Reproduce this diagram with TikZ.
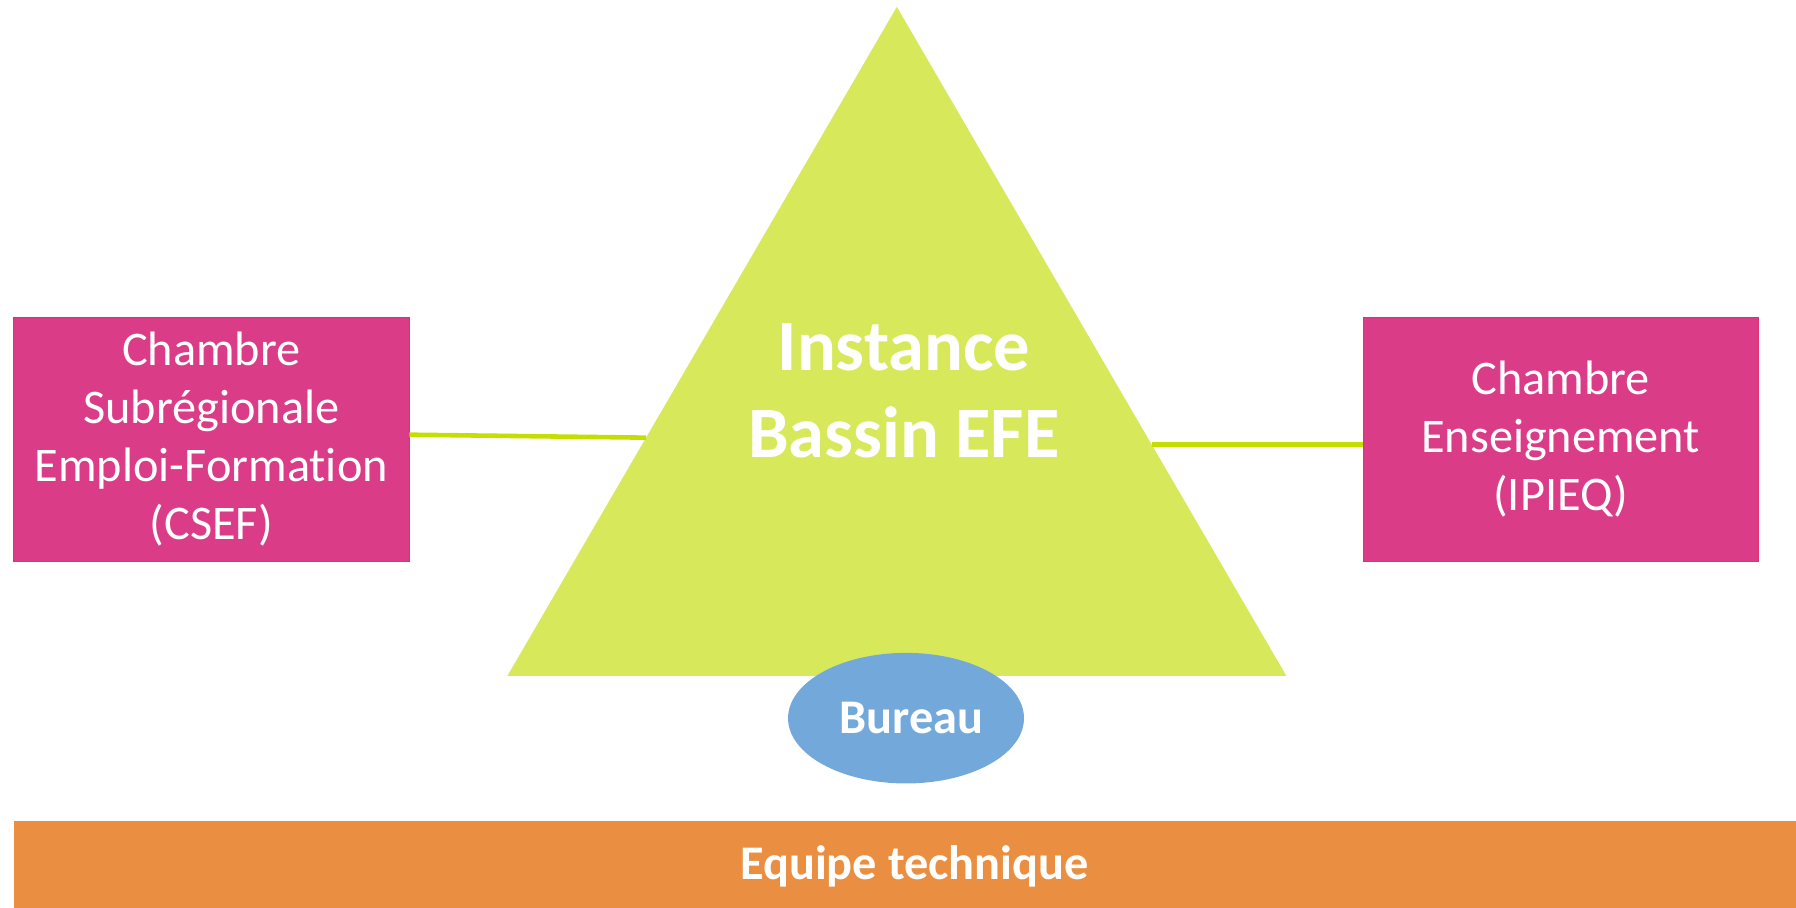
\documentclass[tikz,border=0pt]{standalone}
\usepackage{fontspec}
\setmainfont{Carlito}[Ligatures=CommonOff]
\usetikzlibrary{calc,shapes.geometric}

\definecolor{pyramid}{HTML}{D7E95B}
\definecolor{chamber}{HTML}{DB3C87}
\definecolor{chamberline}{HTML}{E0306F}
\definecolor{bureau}{HTML}{72A9DA}
\definecolor{team}{HTML}{EA8F42}
\definecolor{linkgreen}{HTML}{C3DE00}

\tikzset{
  chambre/.style={draw=chamberline, fill=chamber, text=white, align=center,
    minimum width=69mm, minimum height=42.6mm, inner sep=0pt,
    font=\fontsize{24}{28.8}\selectfont},
  lien/.style={draw=linkgreen, line width=0.8mm},
}

\begin{document}
\begin{tikzpicture}[x=0.2mm, y=-0.2mm]
  \useasboundingbox (0,0) rectangle (1568,792);

  % triangle
  \coordinate (apex) at (783,6);
  \coordinate (bl) at (443,590);
  \coordinate (br) at (1123,590);
  \fill[pyramid] (apex) -- (bl) -- (br) -- cycle;
  \node[text=white, align=center, font=\bfseries\fontsize{36}{43.2}\selectfont]
    (instance) at (789,341) {Instance\\Bassin EFE};

  % chambres
  \node[chambre] (csef) at (184.5,383.5) {Chambre\\Subrégionale\\Emploi-Formation\\(CSEF)};
  \node[chambre] (ipieq) at (1362.5,383.5) {Chambre\\Enseignement\\(IPIEQ)};

  \coordinate (tl) at ($ (apex)!0.644!(bl) $);
  \coordinate (tr) at ($ (apex)!0.654!(br) $);
  \draw[lien] (csef.east) ++(0,-4) -- (tl);
  \draw[lien] (tr) -- (tr -| ipieq.west);

  % bureau
  \node[ellipse, fill=bureau, minimum width=41.2mm, minimum height=22.8mm, inner sep=0pt,
    text=white, font=\bfseries\fontsize{24}{28.8}\selectfont] (bureau) at (791,627)
    {\hspace{2mm}Bureau};

  % equipe technique
  \node[fill=team, anchor=north west, minimum width=311.2mm, minimum height=16mm,
    inner sep=0pt, text=white, font=\bfseries\fontsize{24}{28.8}\selectfont]
    (equipe) at (12,716) {\hspace{3.2mm}Equipe technique};
\end{tikzpicture}
\end{document}
